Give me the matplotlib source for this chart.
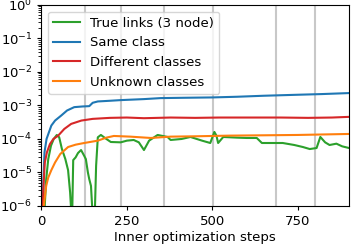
import numpy as np
import matplotlib.pyplot as plt

# values (step, log10 value)
same_steps = [3, 6, 9, 15, 22, 29, 40, 58, 75, 96, 120, 140, 150, 165, 200, 232, 300, 349, 420, 500, 572, 650, 750, 820, 900]
same_log = [-6.3, -5.2, -4.4, -4.0, -3.8, -3.6, -3.45, -3.3, -3.15, -3.05, -3.03, -3.02, -2.92, -2.88, -2.86, -2.84, -2.81, -2.78, -2.77, -2.76, -2.74, -2.71, -2.68, -2.66, -2.63]

diff_steps = [3, 6, 10, 16, 25, 35, 49, 67, 87, 117, 150, 200, 250, 300, 378, 450, 520, 600, 700, 780, 850, 900]
diff_log = [-6.3, -5.4, -4.7, -4.4, -4.15, -4.0, -3.9, -3.7, -3.55, -3.45, -3.4, -3.37, -3.36, -3.38, -3.36, -3.37, -3.36, -3.36, -3.36, -3.37, -3.36, -3.34]

unk_steps = [4, 8, 14, 20, 29, 40, 55, 78, 100, 125, 165, 190, 212, 260, 320, 378, 450, 550, 650, 750, 850, 900]
unk_log = [-6.3, -5.9, -5.4, -5.15, -4.93, -4.7, -4.45, -4.24, -4.17, -4.12, -4.05, -3.96, -3.91, -3.93, -3.97, -3.93, -3.92, -3.9, -3.89, -3.88, -3.86, -3.85]

true_steps = [8, 14, 20, 28, 36, 45, 52, 60, 70, 78, 84, 88, 90, 93, 100, 107, 116, 125, 130, 136, 140, 145, 150, 156, 160, 165, 174, 190, 203, 232, 250, 270, 285, 300, 315, 340, 369, 378, 410, 436, 470, 494, 506, 512, 517, 532, 572, 600, 630, 645, 706, 740, 765, 785, 805, 816, 830, 843, 863, 880, 900]
true_log = [-6.3, -5.2, -4.6, -4.2, -4.0, -3.88, -3.95, -4.3, -4.6, -4.93, -5.6, -6.3, -6.3, -4.63, -4.55, -4.42, -4.33, -4.5, -4.6, -5.0, -5.2, -5.4, -6.3, -6.3, -4.8, -3.95, -3.88, -4.0, -4.09, -4.1, -4.05, -4.03, -4.1, -4.33, -4.05, -3.88, -3.94, -4.03, -4.0, -3.94, -4.05, -4.12, -3.79, -3.9, -4.12, -3.94, -3.96, -3.97, -3.97, -4.12, -4.12, -4.18, -4.24, -4.3, -4.27, -3.94, -4.1, -4.18, -4.14, -4.22, -4.27]

event_steps = [128, 233, 358, 503, 686, 800]

plt.rcParams['font.size'] = 9.5
fig, ax = plt.subplots(figsize=(3.54, 2.47), dpi=100)

for s in event_steps:
    ax.axvline(s, color='#c8c8c8', lw=1.5, zorder=0)

ax.plot(true_steps, 10.0 ** np.array(true_log), color='#2ca02c', lw=1.5, label='True links (3 node)')
ax.plot(same_steps, 10.0 ** np.array(same_log), color='#1f77b4', lw=1.5, label='Same class')
ax.plot(diff_steps, 10.0 ** np.array(diff_log), color='#d62728', lw=1.5, label='Different classes')
ax.plot(unk_steps, 10.0 ** np.array(unk_log), color='#ff7f0e', lw=1.5, label='Unknown classes')

ax.set_yscale('log')
ax.set_ylim(1e-6, 1)
ax.set_xlim(0, 900)
ax.set_xticks([0, 250, 500, 750])
ax.tick_params(axis='both', which='major', length=3)
ax.tick_params(axis='y', which='minor', length=2)
ax.set_xlabel('Inner optimization steps', labelpad=2)
ax.legend(loc='upper left')

plt.subplots_adjust(left=0.117, right=0.986, top=0.98, bottom=0.166)
plt.savefig('out.png', dpi=100)
